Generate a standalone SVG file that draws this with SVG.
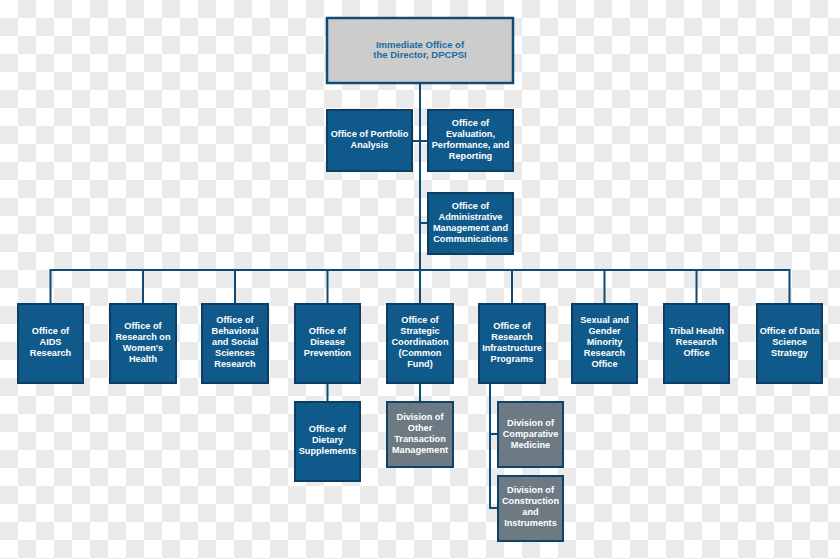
<svg xmlns="http://www.w3.org/2000/svg" width="840" height="559" viewBox="0 0 840 559">
<defs>
<pattern id="chk" width="36" height="36" patternUnits="userSpaceOnUse">
<rect width="36" height="36" fill="#ffffff"/>
<rect x="18" y="0" width="18" height="18" fill="#ebebeb"/>
<rect x="0" y="18" width="18" height="18" fill="#ebebeb"/>
</pattern>
<style>
.b{fill:#105a8b;stroke:#0b3e62;stroke-width:2}
.g{fill:#6d7a84;stroke:#0f4468;stroke-width:2}
.t{fill:#cccccc;stroke:#124c74;stroke-width:2.5}
text{font-family:"Liberation Sans",Arial,sans-serif;font-weight:bold;font-size:9.2px;text-anchor:middle;fill:#ffffff}
.tt{fill:#1b6a9c;font-size:9.5px}
.c{stroke:#0e4a73;stroke-width:2;fill:none}
</style>
</defs>
<rect width="840" height="559" fill="url(#chk)"/>
<g id="connectors">
<line class="c" x1="420" y1="83" x2="420" y2="270"/>
<line class="c" x1="412" y1="141" x2="428" y2="141"/>
<line class="c" x1="420" y1="223" x2="428" y2="223"/>
<line class="c" x1="50.5" y1="270" x2="789.5" y2="270"/>
<line class="c" x1="50.5" y1="269" x2="50.5" y2="303"/>
<line class="c" x1="143" y1="270" x2="143" y2="303"/>
<line class="c" x1="235" y1="270" x2="235" y2="303"/>
<line class="c" x1="327.5" y1="270" x2="327.5" y2="303"/>
<line class="c" x1="420" y1="270" x2="420" y2="303"/>
<line class="c" x1="512" y1="270" x2="512" y2="303"/>
<line class="c" x1="604.5" y1="270" x2="604.5" y2="303"/>
<line class="c" x1="696.5" y1="270" x2="696.5" y2="303"/>
<line class="c" x1="789.5" y1="269" x2="789.5" y2="303"/>
<line class="c" x1="327.5" y1="383" x2="327.5" y2="402"/>
<line class="c" x1="420" y1="383" x2="420" y2="402"/>
<polyline class="c" points="490,383 490,508 498,508"/>
<line class="c" x1="490" y1="434" x2="498" y2="434"/>
</g>
<g id="director">
<rect class="t" x="327" y="18" width="186" height="65"/>
<text class="tt" x="420" y="47.5">Immediate Office of</text>
<text class="tt" x="420" y="58">the Director, DPCPSI</text>
</g>
<g id="portfolio">
<rect class="b" x="327" y="110" width="85" height="61"/>
<text x="369.5" y="137.3">Office of Portfolio</text>
<text x="369.5" y="148.3">Analysis</text>
</g>
<g id="evaluation">
<rect class="b" x="428" y="110" width="85" height="61"/>
<text x="470.5" y="126.3">Office of</text>
<text x="470.5" y="137.3">Evaluation,</text>
<text x="470.5" y="148.3">Performance, and</text>
<text x="470.5" y="159.3">Reporting</text>
</g>
<g id="admin">
<rect class="b" x="428" y="193" width="85" height="61"/>
<text x="470.5" y="209.3">Office of</text>
<text x="470.5" y="220.3">Administrative</text>
<text x="470.5" y="231.3">Management and</text>
<text x="470.5" y="242.3">Communications</text>
</g>
<g id="aids">
<rect class="b" x="18" y="304" width="65" height="79"/>
<text x="50.5" y="334.3">Office of</text>
<text x="50.5" y="345.3">AIDS</text>
<text x="50.5" y="356.3">Research</text>
</g>
<g id="womens">
<rect class="b" x="110" y="304" width="66" height="79"/>
<text x="143" y="329">Office of</text>
<text x="143" y="340">Research on</text>
<text x="143" y="351">Women's</text>
<text x="143" y="362">Health</text>
</g>
<g id="behavioral">
<rect class="b" x="202" y="304" width="66" height="79"/>
<text x="235" y="323.3">Office of</text>
<text x="235" y="334.3">Behavioral</text>
<text x="235" y="345.3">and Social</text>
<text x="235" y="356.3">Sciences</text>
<text x="235" y="367.3">Research</text>
</g>
<g id="disease">
<rect class="b" x="295" y="304" width="65" height="79"/>
<text x="327.5" y="334.3">Office of</text>
<text x="327.5" y="345.3">Disease</text>
<text x="327.5" y="356.3">Prevention</text>
</g>
<g id="strategic">
<rect class="b" x="387" y="304" width="66" height="79"/>
<text x="420" y="323.3">Office of</text>
<text x="420" y="334.3">Strategic</text>
<text x="420" y="345.3">Coordination</text>
<text x="420" y="356.3">(Common</text>
<text x="420" y="367.3">Fund)</text>
</g>
<g id="infrastructure">
<rect class="b" x="479" y="304" width="66" height="79"/>
<text x="512" y="329">Office of</text>
<text x="512" y="340">Research</text>
<text x="512" y="351">Infrastructure</text>
<text x="512" y="362">Programs</text>
</g>
<g id="sgm">
<rect class="b" x="572" y="304" width="65" height="79"/>
<text x="604.5" y="323.3">Sexual and</text>
<text x="604.5" y="334.3">Gender</text>
<text x="604.5" y="345.3">Minority</text>
<text x="604.5" y="356.3">Research</text>
<text x="604.5" y="367.3">Office</text>
</g>
<g id="tribal">
<rect class="b" x="664" y="304" width="65" height="79"/>
<text x="696.5" y="334.3">Tribal Health</text>
<text x="696.5" y="345.3">Research</text>
<text x="696.5" y="356.3">Office</text>
</g>
<g id="datascience">
<rect class="b" x="757" y="304" width="65" height="79"/>
<text x="789.5" y="334.3">Office of Data</text>
<text x="789.5" y="345.3">Science</text>
<text x="789.5" y="356.3">Strategy</text>
</g>
<g id="dietary">
<rect class="b" x="295" y="402" width="65" height="79"/>
<text x="327.5" y="432.3">Office of</text>
<text x="327.5" y="443.3">Dietary</text>
<text x="327.5" y="454.3">Supplements</text>
</g>
<g id="othertransaction">
<rect class="g" x="387" y="402" width="66" height="65"/>
<text x="420" y="420">Division of</text>
<text x="420" y="431">Other</text>
<text x="420" y="442">Transaction</text>
<text x="420" y="453">Management</text>
</g>
<g id="comparative">
<rect class="g" x="498" y="402" width="65" height="65"/>
<text x="530.5" y="425.6">Division of</text>
<text x="530.5" y="436.6">Comparative</text>
<text x="530.5" y="447.6">Medicine</text>
</g>
<g id="construction">
<rect class="g" x="498" y="476" width="65" height="65"/>
<text x="530.5" y="493.3">Division of</text>
<text x="530.5" y="504.3">Construction</text>
<text x="530.5" y="515.3">and</text>
<text x="530.5" y="526.3">Instruments</text>
</g>
</svg>
